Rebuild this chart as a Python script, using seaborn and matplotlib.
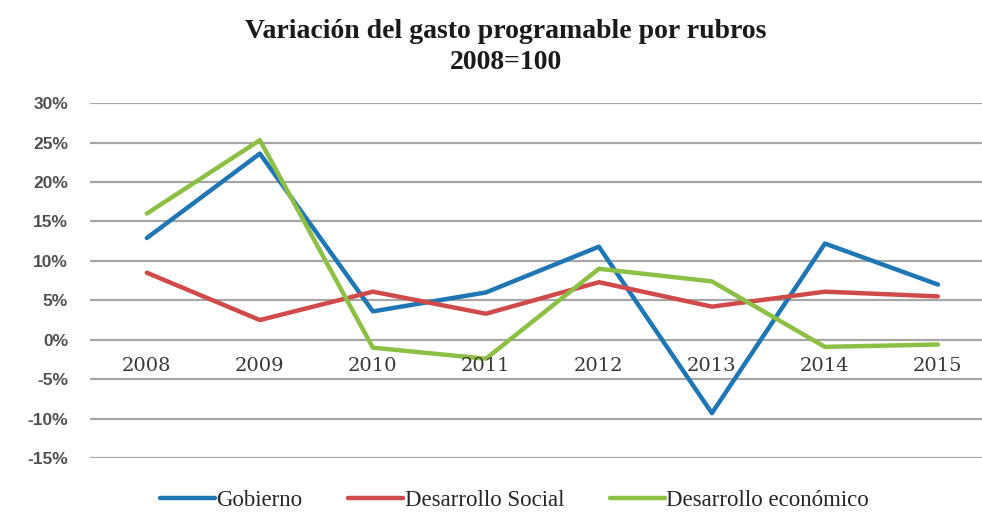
import pandas as pd
import matplotlib.pyplot as plt
import seaborn as sns
from matplotlib.ticker import FuncFormatter

# data (% variation)
years = ["2008", "2009", "2010", "2011", "2012", "2013", "2014", "2015"]
gobierno = [12.9, 23.6, 3.6, 6.0, 11.8, -9.3, 12.2, 7.0]
desarrollo_social = [8.5, 2.5, 6.1, 3.3, 7.3, 4.2, 6.1, 5.5]
desarrollo_economico = [16.0, 25.3, -1.0, -2.4, 9.0, 7.4, -0.9, -0.6]

series = ["Gobierno", "Desarrollo Social", "Desarrollo económico"]
colors = ["#1f76b4", "#d04a4a", "#8cc045"]

df = pd.DataFrame({"Gobierno": gobierno,
                   "Desarrollo Social": desarrollo_social,
                   "Desarrollo económico": desarrollo_economico})
df["year"] = years
df = df.melt(id_vars="year", var_name="rubro", value_name="valor")
df["x"] = df["year"].map({y: i for i, y in enumerate(years)})

sns.set_style("white")
fig = plt.figure(figsize=(9.82, 5.13), dpi=100)
ax = fig.add_axes([0.092, 0.107, 0.908, 0.692])

sns.lineplot(data=df, x="x", y="valor", hue="rubro", hue_order=series,
             palette=colors, linewidth=3.2, ax=ax, sort=False, legend=True)

ax.set_ylim(-15, 30)
ax.set_xlim(-0.5, 7.39)
ax.set_yticks(range(-15, 31, 5))
ax.yaxis.set_major_formatter(FuncFormatter(lambda v, p: f"{int(v)}%"))
ax.grid(axis="y", color="#a6a6a6", linewidth=1.6)
ax.set_axisbelow(True)
for s in ax.spines.values():
    s.set_visible(False)
ax.tick_params(axis="y", length=0, pad=16, labelsize=12.5, labelcolor="#505050")
for t in ax.get_yticklabels():
    t.set_fontweight("bold")
    t.set_family("Liberation Sans")

# year labels sit just under the 0% line
ax.set_xticks([])
ax.set_xlabel("")
ax.set_ylabel("")
for i, y in enumerate(years):
    ax.text(i, -3.3, y, ha="center", va="center", fontsize=14,
            family="DejaVu Serif", color="#383838")

fig.text(0.515, 0.908, "Variación del gasto programable por rubros\n2008=100",
         ha="center", va="center", fontsize=20, fontweight="bold",
         family="Liberation Serif", color="#1a1a1a", linespacing=1.3)

handles, labels = ax.get_legend_handles_labels()
ax.legend_.remove()
fig.legend(handles, labels, loc="center", bbox_to_anchor=(0.524, 0.024),
           ncol=3, frameon=False, handlelength=2.4, handletextpad=0.05,
           columnspacing=2.0, prop={"family": "Liberation Serif", "size": 16.5})

fig.savefig("out.png", dpi=100)
